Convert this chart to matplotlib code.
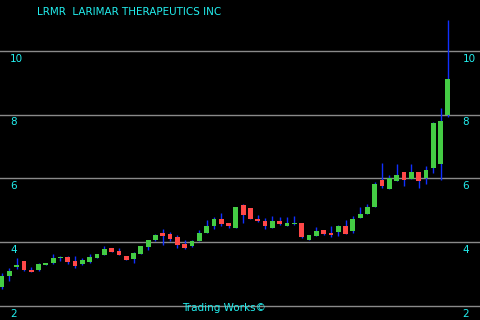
import matplotlib
matplotlib.use('Agg')
import matplotlib.pyplot as plt

title = 'LRMR  LARIMAR THERAPEUTICS INC'
footer = 'Trading Works©'
levels = [2, 4, 6, 8, 10]

# дневные свечи
opens = [2.59, 2.94, 3.22, 3.41, 3.13, 3.13, 3.30, 3.34, 3.51, 3.53,
         3.41, 3.31, 3.38, 3.50, 3.59, 3.81, 3.72, 3.56, 3.47, 3.63,
         3.85, 4.06, 4.28, 4.25, 4.16, 3.94, 3.88, 4.03, 4.28, 4.50,
         4.72, 4.59, 4.44, 5.16, 5.06, 4.72, 4.66, 4.44, 4.66, 4.50,
         4.56, 4.59, 4.06, 4.19, 4.38, 4.28, 4.31, 4.50, 4.34, 4.75,
         4.88, 5.09, 5.94, 5.66, 5.91, 6.19, 5.97, 6.19, 6.03, 6.34,
         6.47, 8.00]
highs = [3.02, 3.19, 3.50, 3.41, 3.21, 3.34, 3.31, 3.63, 3.56, 3.56,
         3.56, 3.50, 3.63, 3.63, 3.88, 3.81, 3.81, 3.56, 3.69, 3.88,
         4.06, 4.25, 4.41, 4.31, 4.22, 4.06, 4.06, 4.38, 4.69, 4.78,
         4.91, 4.59, 5.12, 5.19, 5.06, 4.84, 4.75, 4.81, 4.78, 4.78,
         4.81, 4.59, 4.22, 4.47, 4.38, 4.50, 4.53, 4.69, 4.81, 5.09,
         5.19, 5.88, 6.50, 6.12, 6.44, 6.19, 6.44, 6.19, 6.38, 7.78,
         8.22, 10.97]
lows = [2.52, 2.79, 3.17, 3.09, 3.07, 3.09, 3.30, 3.32, 3.41, 3.32,
        3.19, 3.28, 3.34, 3.50, 3.59, 3.69, 3.59, 3.44, 3.34, 3.63,
        3.75, 4.03, 3.91, 4.04, 3.82, 3.78, 3.85, 4.03, 4.28, 4.41,
        4.50, 4.44, 4.44, 4.59, 4.72, 4.63, 4.41, 4.44, 4.53, 4.50,
        4.53, 4.13, 4.06, 4.19, 4.22, 4.16, 4.19, 4.25, 4.28, 4.75,
        4.88, 5.09, 5.69, 5.66, 5.91, 5.75, 5.97, 5.69, 5.84, 6.16,
        5.94, 7.94]
closes = [2.94, 3.09, 3.28, 3.13, 3.07, 3.31, 3.31, 3.50, 3.53, 3.38,
          3.25, 3.44, 3.53, 3.63, 3.78, 3.69, 3.59, 3.44, 3.66, 3.88,
          4.06, 4.22, 4.20, 4.09, 3.91, 3.81, 4.03, 4.28, 4.50, 4.72,
          4.56, 4.50, 5.09, 4.84, 4.72, 4.66, 4.50, 4.66, 4.56, 4.59,
          4.59, 4.16, 4.22, 4.34, 4.25, 4.22, 4.50, 4.25, 4.72, 4.88,
          5.09, 5.84, 5.75, 6.00, 6.12, 5.94, 6.19, 5.91, 6.28, 7.75,
          7.81, 9.13]

fig = plt.figure(figsize=(4.8, 3.2), dpi=100, facecolor='black')
ax = fig.add_axes([0, 0, 1, 1])
ax.set_facecolor('black')

for lvl in levels:
    ax.axhline(lvl, color='#8a8a8a', linewidth=1, zorder=1)
    ax.text(0.021, lvl - 0.08, str(lvl), color='#22eeee', fontsize=7.5,
            va='top', ha='left', transform=ax.get_yaxis_transform())
    ax.text(0.964, lvl - 0.08, str(lvl), color='#22eeee', fontsize=7.5,
            va='top', ha='left', transform=ax.get_yaxis_transform())

w = 0.65
for i in range(len(opens)):
    o, h, l, c = opens[i], highs[i], lows[i], closes[i]
    col = '#44cc44' if c >= o else '#ff4848'
    ax.vlines(i, l, h, color='#1030ff', linewidth=1.0, zorder=2)
    body = max(abs(c - o), 0.04)
    ax.bar(i, body, width=w, bottom=min(o, c), color=col, zorder=3)

ax.set_xlim(-0.27, 65.4)
ax.set_ylim(1.56, 11.6)
ax.axis('off')

fig.text(0.077, 0.978, title, color='#22eeee', fontsize=7.5, va='top', ha='left')
fig.text(0.466, 0.038, footer, color='#22eeee', fontsize=7.5, va='center', ha='center')

fig.savefig('out.png', dpi=100, facecolor='black')
